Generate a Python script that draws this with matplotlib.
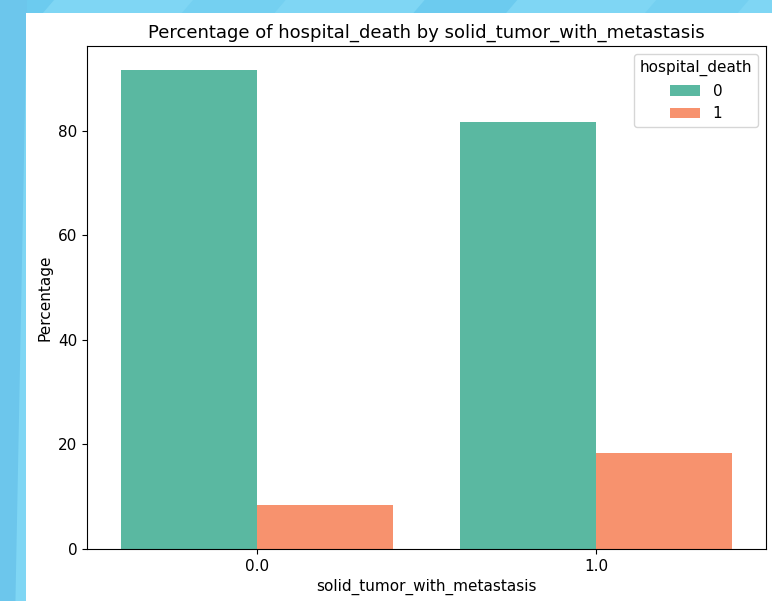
import matplotlib
matplotlib.use("Agg")
import matplotlib.pyplot as plt
import matplotlib.patches as mpatches
import seaborn as sns
import pandas as pd

categories = ["0.0", "1.0"]
death_0 = [91.6, 81.6]
death_1 = [8.4, 18.4]

df = pd.DataFrame({
    "solid_tumor_with_metastasis": categories * 2,
    "hospital_death": ["0"] * 2 + ["1"] * 2,
    "Percentage": death_0 + death_1,
})

plt.rcParams.update({"font.size": 11, "axes.titlesize": 13, "axes.labelsize": 11,
                     "xtick.labelsize": 11, "ytick.labelsize": 11,
                     "legend.fontsize": 11, "legend.title_fontsize": 11})

fig = plt.figure(figsize=(7.72, 6.01), dpi=100)
fig.patch.set_facecolor("#7fd6f4")
# screenshot backdrop stripes
for x0, c in [(-0.05, "#6ccbef"), (0.25, "#74d0f1"), (0.55, "#6ccbef"), (0.85, "#74d0f1")]:
    fig.patches.append(mpatches.Polygon([[x0, 1], [x0 + 0.12, 1], [x0 + 0.1, 0.97], [x0 - 0.02, 0.97]],
                                        closed=True, transform=fig.transFigure, facecolor=c,
                                        edgecolor="none", zorder=-10))
fig.patches.append(mpatches.Polygon([[0, 0], [0.02, 0], [0.035, 1], [0, 1]], closed=True,
                                    transform=fig.transFigure, facecolor="#6cc6ec",
                                    edgecolor="none", zorder=-10))
fig.patches.append(mpatches.Rectangle((26 / 772, 0), 1, (601 - 13) / 601, transform=fig.transFigure,
                                      facecolor="white", edgecolor="none", zorder=-9))

ax = fig.add_axes([87 / 772, 52 / 601, (766 - 87) / 772, (549 - 46) / 601])
sns.barplot(data=df, x="solid_tumor_with_metastasis", y="Percentage", hue="hospital_death",
            palette=["#5ab8a1", "#f7926e"], saturation=1, ax=ax)
ax.set_title("Percentage of hospital_death by solid_tumor_with_metastasis")
ax.legend(title="hospital_death", loc="upper right")

fig.savefig("out.png", dpi=100)
